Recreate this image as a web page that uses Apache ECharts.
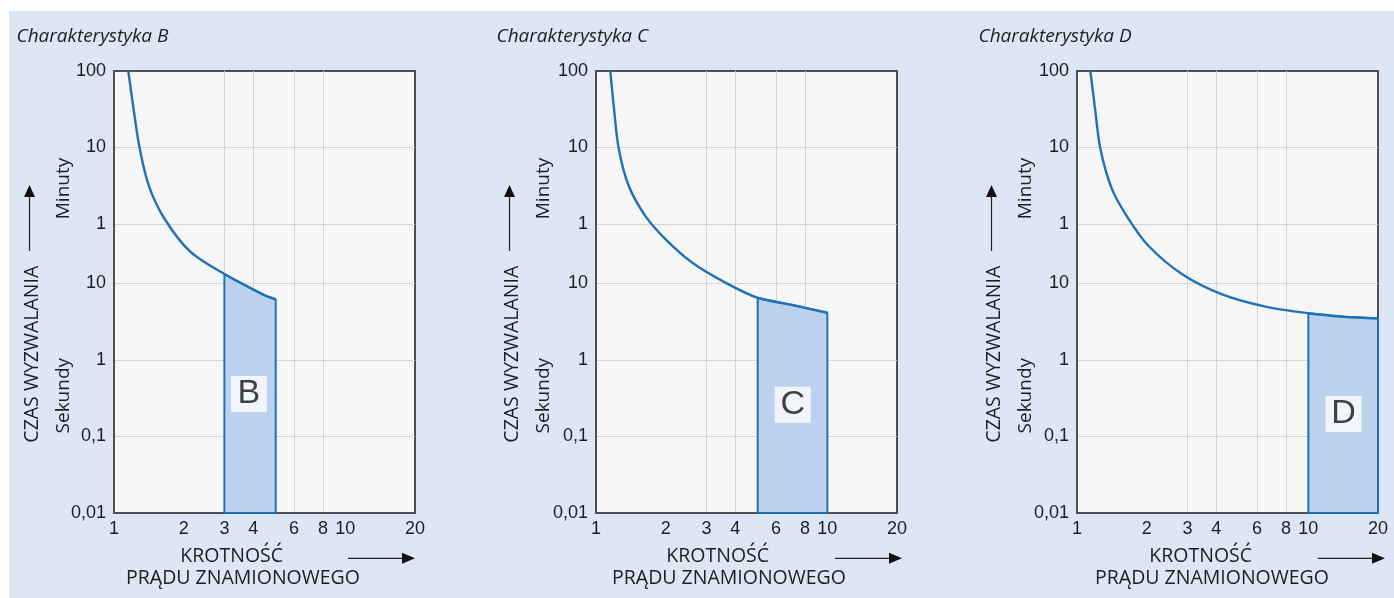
<!DOCTYPE html>
<html>
<head>
<meta charset="utf-8">
<script src="https://cdn.jsdelivr.net/npm/echarts@6/dist/echarts.min.js"></script>
<style>
html,body{margin:0;padding:0;background:#fff;}
#chart{width:1394px;height:598px;}
</style>
</head>
<body>
<div id="chart"></div>
<script>
// ---- data ----
const panelTitles = ['Charakterystyka B', 'Charakterystyka C', 'Charakterystyka D'];
const bandLetters = ['B', 'C', 'D'];
const xTickValues = [1, 2, 3, 4, 6, 8, 10, 20];
const xTickLabels = ['1', '2', '3', '4', '6', '8', '10', '20'];
const xGridValues = [2, 3, 4, 6, 8, 10];
// time in seconds: 0.01 s ... 100 min (6000 s)
const yTickValues = [0.01, 0.1, 1, 10, 60, 600, 6000];
const yTickLabels = ['0,01', '0,1', '1', '10', '1', '10', '100'];
const yMin = 0.01;
const yMax = 6000;
const xMin = 1;
const xMax = 20;

// trip curves [multiple of rated current, seconds]
const curveB = [[1.153, 6000], [1.21, 2090], [1.291, 585], [1.416, 188], [1.656, 69.7], [2.13, 26.3], [3, 13.3], [4.44, 7.1], [5, 6.2]];
const curveC = [[1.153, 6000], [1.193, 2090], [1.254, 578], [1.386, 188], [1.636, 76], [2.0, 37.8], [2.61, 18.7], [3.64, 10.2], [5, 6.5], [7.06, 5.24], [10, 4.15]];
const curveD = [[1.142, 6000], [1.193, 2090], [1.262, 578], [1.418, 170], [1.675, 69], [2.04, 30.9], [2.85, 13.2], [4.24, 7.2], [6.53, 4.98], [10, 4.08], [14.2, 3.68], [20, 3.5]];
// instantaneous trip ranges
const bandB = [3, 5];
const bandC = [5, 10];
const bandD = [10, 20];
// letter anchor positions [x, seconds]
const letterB = [3.83, 0.36];
const letterC = [7.08, 0.26];
const letterD = [14.2, 0.197];

const curves = [curveB, curveC, curveD];
const bands = [bandB, bandC, bandD];
const letters = [letterB, letterC, letterD];

// ---- layout ----
const gridLefts = [114, 596, 1077];
const yOff = [0, 480, 962];     // offsets for left-side texts
const xOff = [0, 486, 969];     // offsets for bottom texts
const arrowStart = [348, 835, 1318];

const BLUE = '#1f72b8';
const FILL = '#bcd1ee';
const TXT = '#1e1e1e';
const FONT = '"Open Sans", "Noto Sans", sans-serif';
const NUMFONT = '"Liberation Sans", Arial, sans-serif';

function yLabel(v) {
  const i = yTickValues.findIndex(t => Math.abs(Math.log10(t) - Math.log10(v)) < 1e-6);
  return i >= 0 ? yTickLabels[i] : '';
}
function xLabel(v) {
  const i = xTickValues.findIndex(t => Math.abs(Math.log10(t) - Math.log10(v)) < 1e-6);
  return i >= 0 ? xTickLabels[i] : '';
}

const grids = [], xAxes = [], yAxes = [], series = [], graphics = [];

graphics.push({
  type: 'rect', z: -10, silent: true,
  shape: { x: 9, y: 11, width: 1385, height: 587 },
  style: { fill: '#dde6f5' }
});

for (let i = 0; i < 3; i++) {
  grids.push({
    left: gridLefts[i], top: 71, width: 301, height: 442,
    show: true, backgroundColor: '#f6f6f6', borderColor: '#4f4f4f', borderWidth: 2,
    containLabel: false, outerBoundsMode: 'none'
  });
  xAxes.push({
    type: 'log', logBase: 10, gridIndex: i, min: xMin, max: xMax,
    axisLine: { show: true, lineStyle: { color: '#4f4f4f', width: 2 } },
    axisTick: { show: false, customValues: xGridValues },
    axisLabel: {
      customValues: xTickValues, formatter: xLabel, margin: 7,
      fontSize: 18, fontFamily: NUMFONT, color: TXT,
      showMinLabel: true, showMaxLabel: true, hideOverlap: false
    },
    splitLine: { show: true, showMinLine: false, showMaxLine: false, lineStyle: { color: '#d4d4d4', width: 1 } },
    minorSplitLine: { show: false }
  });
  yAxes.push({
    type: 'log', logBase: 10, gridIndex: i, min: yMin, max: yMax,
    axisLine: { show: true, lineStyle: { color: '#4f4f4f', width: 2 } },
    axisTick: { show: false, customValues: yTickValues },
    axisLabel: {
      customValues: yTickValues, formatter: yLabel, margin: 8,
      fontSize: 18, fontFamily: NUMFONT, color: TXT,
      showMinLabel: true, showMaxLabel: true, hideOverlap: false
    },
    splitLine: { show: true, showMinLine: false, showMaxLine: false, lineStyle: { color: '#d4d4d4', width: 1 } },
    minorSplitLine: { show: false }
  });

  const c = curves[i], b = bands[i];
  const bandData = [[b[0], yMin]].concat(c.filter(p => p[0] >= b[0] && p[0] <= b[1])).concat([[b[1], yMin], [b[0], yMin]]);
  series.push({
    type: 'line', xAxisIndex: i, yAxisIndex: i, data: bandData,
    symbol: 'none', smooth: false, z: 2,
    lineStyle: { color: BLUE, width: 2 },
    areaStyle: { color: FILL, opacity: 1, origin: 'start' }
  });
  series.push({
    type: 'line', xAxisIndex: i, yAxisIndex: i, data: c,
    symbol: 'none', smooth: 0.3, z: 3,
    lineStyle: { color: BLUE, width: 2.4 }
  });
  series.push({
    type: 'scatter', xAxisIndex: i, yAxisIndex: i, data: [letters[i]],
    symbol: 'rect', symbolSize: [36, 36], z: 4,
    itemStyle: { color: '#ffffff' },
    label: { show: true, position: 'inside', formatter: bandLetters[i], fontSize: 34, fontFamily: NUMFONT, color: '#111' }
  });

  // titles and axis texts
  const oy = yOff[i], ox = xOff[i];
  graphics.push({
    type: 'text', x: 16.5 + oy, y: 37,
    style: { text: panelTitles[i], fontSize: 19, fontStyle: 'italic', fontFamily: FONT, fill: TXT, align: 'left', verticalAlign: 'middle' }
  });
  graphics.push({
    type: 'text', x: 63.5 + oy, y: 188.5, rotation: Math.PI / 2,
    style: { text: 'Minuty', fontSize: 19, fontFamily: FONT, fill: TXT, align: 'center', verticalAlign: 'middle' }
  });
  graphics.push({
    type: 'text', x: 63.5 + oy, y: 395.7, rotation: Math.PI / 2,
    style: { text: 'Sekundy', fontSize: 19, fontFamily: FONT, fill: TXT, align: 'center', verticalAlign: 'middle' }
  });
  graphics.push({
    type: 'text', x: 32 + oy, y: 354.2, rotation: Math.PI / 2,
    style: { text: 'CZAS WYZWALANIA', fontSize: 19.5, fontFamily: FONT, fill: TXT, align: 'center', verticalAlign: 'middle' }
  });
  graphics.push({
    type: 'line', shape: { x1: 29.5 + oy, y1: 251, x2: 29.5 + oy, y2: 196 },
    style: { stroke: '#222', lineWidth: 1.2 }
  });
  graphics.push({
    type: 'polygon', shape: { points: [[29.5 + oy, 185], [24 + oy, 197], [35 + oy, 197]] },
    style: { fill: '#111' }
  });
  graphics.push({
    type: 'text', x: 231.7 + ox, y: 556,
    style: { text: 'KROTNOŚĆ', fontSize: 19.5, fontFamily: FONT, fill: TXT, align: 'center', verticalAlign: 'middle' }
  });
  graphics.push({
    type: 'text', x: 243 + ox, y: 578.5,
    style: { text: 'PRĄDU ZNAMIONOWEGO', fontSize: 19.5, fontFamily: FONT, fill: TXT, align: 'center', verticalAlign: 'middle' }
  });
  const ax = arrowStart[i];
  graphics.push({
    type: 'line', shape: { x1: ax, y1: 558.3, x2: ax + 55, y2: 558.3 },
    style: { stroke: '#222', lineWidth: 1.2 }
  });
  graphics.push({
    type: 'polygon', shape: { points: [[ax + 67, 558.3], [ax + 54, 552.8], [ax + 54, 563.8]] },
    style: { fill: '#111' }
  });
}

const chart = echarts.init(document.getElementById('chart'), null, { renderer: 'canvas' });
chart.setOption({
  backgroundColor: '#ffffff',
  animation: false,
  grid: grids,
  xAxis: xAxes,
  yAxis: yAxes,
  series: series,
  graphic: { elements: graphics }
});
</script>
</body>
</html>
